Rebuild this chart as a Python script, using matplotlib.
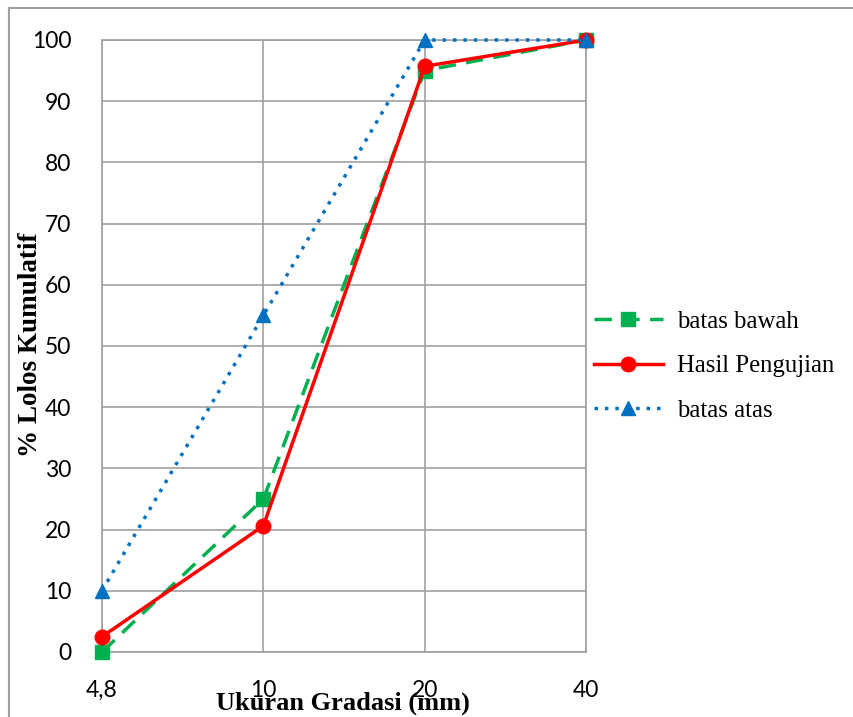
import matplotlib
matplotlib.use('Agg')
from matplotlib import pyplot as plt
from matplotlib.lines import Line2D

ukuran = ['4,8', '10', '20', '40']
batas_bawah = [0, 25, 95, 100]
hasil_pengujian = [2.5, 20.6, 95.7, 100]
batas_atas = [10, 55, 100, 100]

fig = plt.figure(figsize=(8.54, 7.17), dpi=100)
ax = fig.add_axes([102 / 854, 1 - 652 / 717, (586 - 102) / 854, (652 - 40) / 717])

x = list(range(len(ukuran)))
ax.plot(x, batas_bawah, color='#00b050', linestyle=(0, (5, 3)), linewidth=2.5,
        marker='s', markersize=10, label='batas bawah', zorder=3, clip_on=False)
ax.plot(x, hasil_pengujian, color='#ff0000', linestyle='-', linewidth=2.5,
        marker='o', markersize=10.5, label='Hasil Pengujian', zorder=4, clip_on=False)
ax.plot(x, batas_atas, color='#0070c0', linestyle=(0, (1, 2)), linewidth=2.5,
        marker='^', markersize=10, label='batas atas', zorder=5, clip_on=False)

ax.set_xlim(0, 3)
ax.set_ylim(0, 100)
ax.set_yticks(range(0, 101, 10))
ax.set_xticks(x)
ax.set_xticklabels(ukuran)
ax.grid(True, color='#a0a0a0', linewidth=1.2)
ax.set_axisbelow(True)
for s in ax.spines.values():
    s.set_color('#a0a0a0')
    s.set_linewidth(1.2)
ax.tick_params(length=0, labelsize=16.5)
ax.tick_params(axis='x', pad=20)
ax.tick_params(axis='y', pad=22)
for lab in ax.get_xticklabels() + ax.get_yticklabels():
    lab.set_fontfamily('Lato')

fig.text(343 / 854, 1 - 703 / 717, 'Ukuran Gradasi (mm)', family='Liberation Serif',
         fontweight='bold', fontsize=19, ha='center', va='center')
fig.text(31 / 854, 1 - 345 / 717, '% Lolos Kumulatif', family='Liberation Serif',
         fontweight='bold', fontsize=19.5, ha='center', va='center', rotation=90)

leg = fig.legend(loc='center left', bbox_to_anchor=(584 / 854, 1 - 366 / 717),
                 frameon=False, prop={'family': 'Liberation Serif', 'size': 17.8},
                 handlelength=2.8, labelspacing=0.9, handletextpad=0.55,
                 borderaxespad=0)

# outer chart border (top and left only visible)
fig.add_artist(Line2D([9 / 854, 1], [1 - 8 / 717, 1 - 8 / 717], color='#a0a0a0',
                      linewidth=1.5, transform=fig.transFigure))
fig.add_artist(Line2D([9 / 854, 9 / 854], [0, 1 - 8 / 717], color='#a0a0a0',
                      linewidth=1.5, transform=fig.transFigure))

fig.savefig('out.png', dpi=100)
